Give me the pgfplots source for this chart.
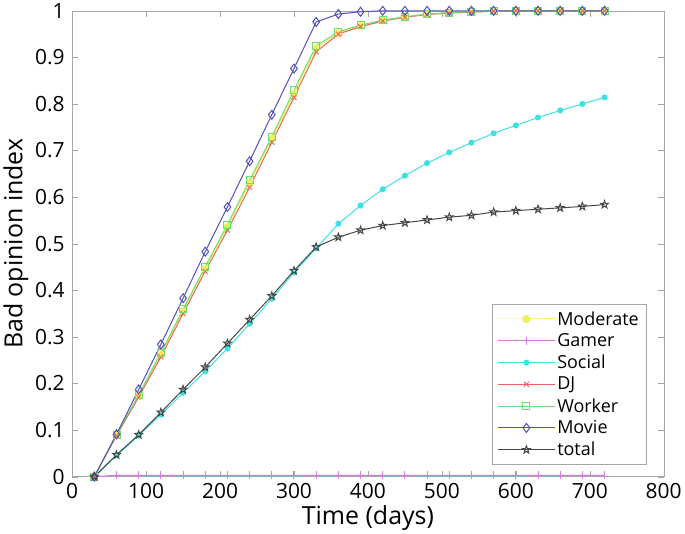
\documentclass[border=0pt]{standalone}
\usepackage{fontspec}
\setmainfont{Open Sans}
\usepackage{pgfplots}
\pgfplotsset{compat=1.18}
\definecolor{cmod}{RGB}{240,240,90}
\definecolor{cgam}{RGB}{220,120,230}
\definecolor{csoc}{RGB}{60,225,225}
\definecolor{cdj}{RGB}{235,100,100}
\definecolor{cwor}{RGB}{110,220,110}
\definecolor{cmov}{RGB}{80,80,190}
\definecolor{ctot}{RGB}{70,70,70}
\pgfdeclareplotmark{pentagram}{%
  \pgfpathmoveto{\pgfpointpolar{90}{\pgfplotmarksize}}%
  \pgfpathlineto{\pgfpointpolar{126}{0.4\pgfplotmarksize}}%
  \pgfpathlineto{\pgfpointpolar{162}{\pgfplotmarksize}}%
  \pgfpathlineto{\pgfpointpolar{198}{0.4\pgfplotmarksize}}%
  \pgfpathlineto{\pgfpointpolar{234}{\pgfplotmarksize}}%
  \pgfpathlineto{\pgfpointpolar{270}{0.4\pgfplotmarksize}}%
  \pgfpathlineto{\pgfpointpolar{306}{\pgfplotmarksize}}%
  \pgfpathlineto{\pgfpointpolar{342}{0.4\pgfplotmarksize}}%
  \pgfpathlineto{\pgfpointpolar{18}{\pgfplotmarksize}}%
  \pgfpathlineto{\pgfpointpolar{54}{0.4\pgfplotmarksize}}%
  \pgfpathclose\pgfusepathqstroke}
\begin{document}
\begin{tikzpicture}
\begin{axis}[
  scale only axis, width=593pt, height=467pt,
  xmin=0, xmax=800, ymin=0, ymax=1,
  xtick={0,100,...,800}, ytick={0,0.1,...,1},
  yticklabels={0,0.1,0.2,0.3,0.4,0.5,0.6,0.7,0.8,0.9,1},
  /pgf/number format/assume math mode=true,
  tick label style={font=\fontsize{21}{25}\selectfont},
  xticklabel style={yshift=-3pt},
  yticklabel style={xshift=-4pt},
  label style={font=\fontsize{25}{30}\selectfont},
  xlabel={Time (days)}, ylabel={Bad opinion index},
  tick align=inside, axis line style={gray!70}, major tick style={gray!70},
  major tick length=6pt,
  legend style={at={(0.97,0.026)}, anchor=south east, font=\fontsize{18}{21}\selectfont, draw=gray!70, row sep=3pt, inner sep=5pt},
  legend cell align=left,
  legend image code/.code={\draw[mark repeat=2,mark phase=2] plot coordinates {(0cm,0cm)(1cm,0cm)(2cm,0cm)};},
  every axis plot/.append style={line width=1pt},
  mark size=3.5pt,
]
\addplot[cmod, mark=*, mark options={fill=cmod}] coordinates {(30,0)(60,0.089)(90,0.174)(120,0.262)(150,0.355)(180,0.446)(210,0.536)(240,0.63)(270,0.725)(300,0.822)(330,0.919)(360,0.952)(390,0.968)(420,0.979)(450,0.987)(480,0.993)(510,0.996)(540,0.998)(570,0.999)(600,1)(630,1)(660,1)(690,1)(720,1)};
\addlegendentry{Moderate}
\addplot[cgam, mark=|, mark size=4pt] coordinates {(30,0)(60,0.003)(90,0.003)(120,0.003)(150,0.003)(180,0.003)(210,0.003)(240,0.003)(270,0.003)(300,0.003)(330,0.003)(360,0.003)(390,0.003)(420,0.003)(450,0.003)(480,0.003)(510,0.003)(540,0.003)(570,0.003)(600,0.003)(630,0.003)(660,0.003)(690,0.003)(720,0.003)};
\addlegendentry{Gamer}
\addplot[csoc, mark=*, mark size=2.5pt, mark options={fill=csoc}] coordinates {(30,0)(60,0.045)(90,0.088)(120,0.133)(150,0.18)(180,0.226)(210,0.275)(240,0.328)(270,0.382)(300,0.438)(330,0.49)(360,0.543)(390,0.582)(420,0.617)(450,0.646)(480,0.673)(510,0.696)(540,0.717)(570,0.737)(600,0.754)(630,0.771)(660,0.786)(690,0.80)(720,0.814)};
\addlegendentry{Social}
\addplot[cdj, mark=x] coordinates {(30,0)(60,0.088)(90,0.171)(120,0.257)(150,0.35)(180,0.441)(210,0.529)(240,0.621)(270,0.718)(300,0.814)(330,0.912)(360,0.95)(390,0.966)(420,0.978)(450,0.986)(480,0.992)(510,0.995)(540,0.997)(570,0.999)(600,1)(630,1)(660,1)(690,1)(720,1)};
\addlegendentry{DJ}
\addplot[cwor, mark=square] coordinates {(30,0)(60,0.09)(90,0.176)(120,0.266)(150,0.359)(180,0.451)(210,0.541)(240,0.636)(270,0.73)(300,0.829)(330,0.925)(360,0.955)(390,0.969)(420,0.98)(450,0.987)(480,0.993)(510,0.996)(540,0.998)(570,0.999)(600,1)(630,1)(660,1)(690,1)(720,1)};
\addlegendentry{Worker}
\addplot[cmov, mark=diamond, mark size=4.5pt] coordinates {(30,0)(60,0.091)(90,0.187)(120,0.284)(150,0.383)(180,0.483)(210,0.579)(240,0.677)(270,0.777)(300,0.876)(330,0.976)(360,0.993)(390,0.998)(420,1)(450,1)(480,1)(510,1)(540,1)(570,1)(600,1)(630,1)(660,1)(690,1)(720,1)};
\addlegendentry{Movie}
\addplot[ctot, mark=pentagram, mark size=4pt] coordinates {(30,0)(60,0.047)(90,0.09)(120,0.138)(150,0.187)(180,0.235)(210,0.286)(240,0.337)(270,0.388)(300,0.442)(330,0.493)(360,0.514)(390,0.529)(420,0.539)(450,0.545)(480,0.551)(510,0.557)(540,0.561)(570,0.568)(600,0.571)(630,0.574)(660,0.577)(690,0.58)(720,0.584)};
\addlegendentry{total}
\end{axis}
\end{tikzpicture}
\end{document}
